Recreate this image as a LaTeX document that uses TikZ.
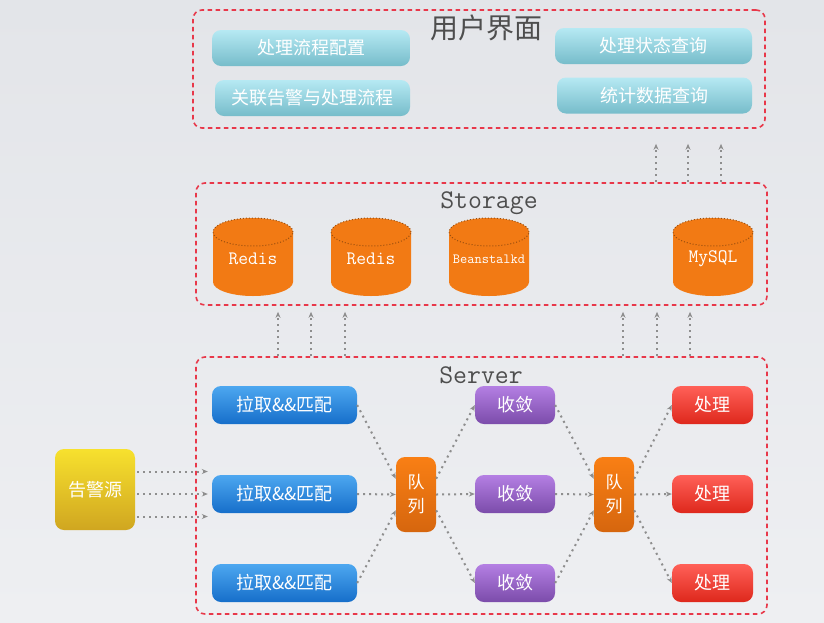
\documentclass[tikz,border=0pt]{standalone}
\usepackage{fontspec}
\newfontfamily\cjk{Noto Sans CJK SC}
\usetikzlibrary{positioning,calc,arrows.meta}
\definecolor{bgTop}{HTML}{E3E5E9}
\definecolor{bgBottom}{HTML}{EEEFF2}
\definecolor{panelRed}{HTML}{E8384A}
\definecolor{titleGray}{HTML}{4E4E4E}
\definecolor{flowGray}{HTML}{8E8E8E}
\definecolor{uiTop}{HTML}{B6E9F3}
\definecolor{uiBottom}{HTML}{76BCCA}
\definecolor{dbOrange}{HTML}{F27A14}
\definecolor{dbLine}{HTML}{9A4E0E}
\definecolor{srcTop}{HTML}{F7E12E}
\definecolor{srcBottom}{HTML}{D0A620}
\definecolor{pullTop}{HTML}{4DA7F0}
\definecolor{pullBottom}{HTML}{166ECA}
\definecolor{queueTop}{HTML}{F97F14}
\definecolor{queueBottom}{HTML}{D6660E}
\definecolor{mergeTop}{HTML}{B47FE3}
\definecolor{mergeBottom}{HTML}{7B4CAA}
\definecolor{handleTop}{HTML}{FF6058}
\definecolor{handleBottom}{HTML}{DE281C}
\tikzset{
  panel/.style={draw=panelRed, line width=1.6pt, dash pattern=on 4.5pt off 3.5pt, rounded corners=9pt},
  paneltitle/.style={text=titleGray, inner sep=0pt},
  box/.style={rounded corners=9pt, text=white, inner sep=0pt, font=\cjk\fontsize{18}{21}\selectfont},
  uibtn/.style={box, top color=uiTop, bottom color=uiBottom, minimum height=36pt},
  srcbox/.style={box, top color=srcTop, bottom color=srcBottom, minimum width=80pt, minimum height=81pt},
  pullbox/.style={box, top color=pullTop, bottom color=pullBottom, minimum width=145pt, minimum height=38pt},
  mergebox/.style={box, top color=mergeTop, bottom color=mergeBottom, minimum width=80pt, minimum height=38pt},
  handlebox/.style={box, top color=handleTop, bottom color=handleBottom, minimum width=81pt, minimum height=38pt},
  queuebox/.style={box, top color=queueTop, bottom color=queueBottom, minimum width=40pt, minimum height=75pt, align=center, font=\cjk\fontsize{17}{24}\selectfont},
  dblabel/.style={text=white, inner sep=0pt},
  flow/.style={draw=flowGray, line width=2pt, dash pattern=on 2pt off 4pt, -{Stealth[length=6pt,width=5pt]}}
}
\begin{document}
\begin{tikzpicture}[x=1pt,y=-1pt]
\fill[top color=bgTop, bottom color=bgBottom] (0,0) rectangle (824,622);
% panels
\node[panel, minimum width=572pt, minimum height=118pt] (uipanel) at (479,69) {};
\node[panel, minimum width=571pt, minimum height=122pt] (stpanel) at (481.5,244) {};
\node[panel, minimum width=571pt, minimum height=257pt] (svpanel) at (481.5,485.5) {};
\node[paneltitle, font=\cjk\fontsize{28}{30}\selectfont] (uititle) at (486,28) {用户界面};
\node[paneltitle, font=\ttfamily\fontsize{27}{30}\selectfont] (sttitle) at (489,203) {Storage};
\node[paneltitle, font=\ttfamily\fontsize{27}{30}\selectfont] (svtitle) at (481,375) {Server};
% user interface
\node[uibtn, minimum width=198pt] (cfg) at (311,48) {处理流程配置};
\node[uibtn, minimum width=195pt] (bind) at (312.5,98) {关联告警与处理流程};
\node[uibtn, minimum width=197pt] (state) at (653.5,46) {处理状态查询};
\node[uibtn, minimum width=195pt] (stat) at (654.5,95.5) {统计数据查询};
% storage
\foreach \x/\lbl/\nm/\fs in {253/Redis/redisA/19,371/Redis/redisB/19,489/Beanstalkd/beans/14,713/MySQL/mysql/19}{
  \fill[dbOrange] (\x-40,232) -- (\x-40,282) arc[start angle=180,end angle=360,x radius=40pt,y radius=14pt]
    -- (\x+40,232) arc[start angle=0,end angle=180,x radius=40pt,y radius=14pt] -- cycle;
  \draw[dbLine, line width=1pt, dotted] (\x,232) ellipse[x radius=40pt,y radius=14pt];
  \node[dblabel, font=\ttfamily\fontsize{\fs}{\fs}\selectfont] (\nm) at (\x,259) {\lbl};
}
% server
\node[srcbox] (src) at (95,489.5) {告警源};
\foreach \r/\y in {1/405,2/494,3/583}{
  \node[pullbox] (pull\r) at (284.5,\y) {拉取\&\&匹配};
  \node[mergebox] (merge\r) at (515,\y) {收敛};
  \node[handlebox] (handle\r) at (712.5,\y) {处理};
}
\node[queuebox] (q1) at (416,494.5) {队\\列};
\node[queuebox] (q2) at (614,494.5) {队\\列};
% connectors
\foreach \s in {-22.5,0,22.5}
  \draw[flow] ($(src.east |- pull2.west)+(2,\s)$) -- ($(pull2.west)+(-4,\s)$);
\foreach \r/\a/\b in {1/142/38,2/180/0,3/218/322}{
  \draw[flow] (pull\r.east) -- (q1.\a);
  \draw[flow] (q1.\b) -- (merge\r.west);
  \draw[flow] (merge\r.east) -- (q2.\a);
  \draw[flow] (q2.\b) -- (handle\r.west);
}
\foreach \x in {656,688,721}
  \draw[flow] (stpanel.north -| \x,0) -- ($(uipanel.south -| \x,0)+(0,15)$);
\foreach \x in {278,311,345,623,657,690}
  \draw[flow] (svpanel.north -| \x,0) -- ($(stpanel.south -| \x,0)+(0,6)$);
\end{tikzpicture}
\end{document}
